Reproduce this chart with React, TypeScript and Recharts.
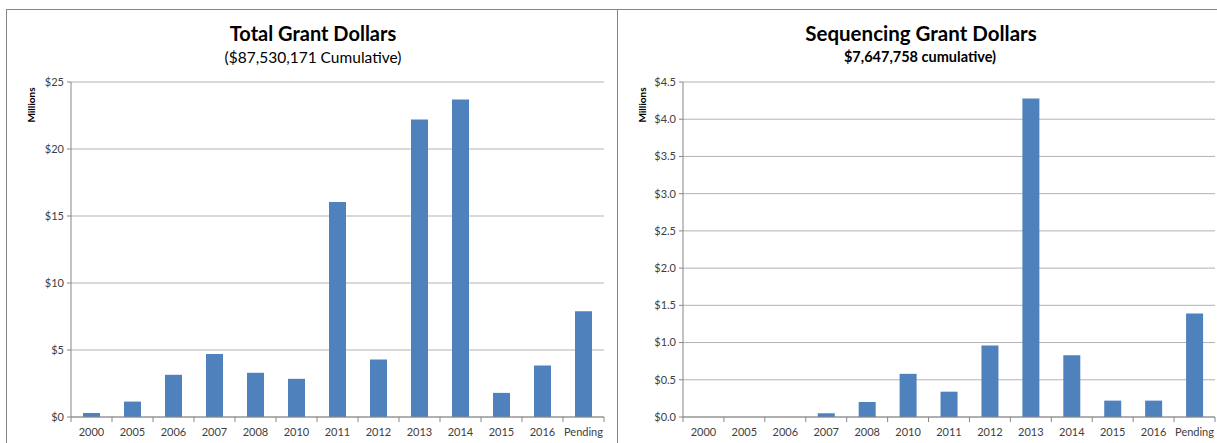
import { BarChart, Bar, XAxis, YAxis, CartesianGrid } from "recharts";

const categories = [
  "2000", "2005", "2006", "2007", "2008", "2010", "2011",
  "2012", "2013", "2014", "2015", "2016", "Pending",
];

// millions of dollars per year
const totalGrants = [0.3, 1.15, 3.15, 4.7, 3.3, 2.85, 16.05, 4.3, 22.2, 23.7, 1.8, 3.85, 7.9];
const sequencingGrants = [0, 0, 0, 0.05, 0.2, 0.58, 0.34, 0.96, 4.28, 0.83, 0.22, 0.22, 1.39];

const totalTicks = [0, 5, 10, 15, 20, 25];
const sequencingTicks = [0, 0.5, 1, 1.5, 2, 2.5, 3, 3.5, 4, 4.5];

const totalData = categories.map((year, i) => ({ year, value: totalGrants[i] }));
const sequencingData = categories.map((year, i) => ({ year, value: sequencingGrants[i] }));

const FONT = "Lato, 'Open Sans', sans-serif";
const BAR = "#4F81BD";
const AXIS = "#868686";
const GRID = "#B3B3B3";
const TEXT = "#404040";

const CategoryTick = (props: any) => {
  const { x, y, payload, index, band, count } = props;
  const axisY = y - 7;
  const left = x - band / 2;
  return (
    <g>
      <line x1={left} x2={left} y1={axisY} y2={axisY + 5} stroke={AXIS} />
      {index === count - 1 && (
        <line x1={left + band} x2={left + band} y1={axisY} y2={axisY + 5} stroke={AXIS} />
      )}
      <text x={x} y={y} dy={12} textAnchor="middle" fill={TEXT} fontSize={11} fontFamily={FONT}>
        {payload.value}
      </text>
    </g>
  );
};

const MillionsLabel = ({ x, y }: { x: number; y: number }) => (
  <text
    transform={`translate(${x},${y}) rotate(-90)`}
    textAnchor="middle"
    fontSize={10}
    fontWeight="bold"
    fill="#000"
    fontFamily={FONT}
  >
    Millions
  </text>
);

type PanelProps = {
  data: { year: string; value: number }[];
  ticks: number[];
  max: number;
  format: (v: number) => string;
  width: number;
  yAxisWidth: number;
  marginRight: number;
};

function GrantChart({ data, ticks, max, format, width, yAxisWidth, marginRight }: PanelProps) {
  const plotWidth = width - yAxisWidth - marginRight;
  const band = plotWidth / data.length;
  return (
    <BarChart
      width={width}
      height={433}
      data={data}
      margin={{ top: 72, right: marginRight, bottom: 0, left: 0 }}
      barSize={17}
    >
      <CartesianGrid vertical={false} stroke={GRID} />
      <XAxis
        dataKey="year"
        height={26}
        stroke={AXIS}
        tickLine={false}
        tickSize={5}
        tickMargin={2}
        interval={0}
        tick={<CategoryTick band={band} count={data.length} />}
      />
      <YAxis
        width={yAxisWidth}
        domain={[0, max]}
        ticks={ticks}
        interval={0}
        stroke={AXIS}
        tickSize={4}
        tickMargin={3}
        tickFormatter={format}
        tick={{ fill: TEXT, fontSize: 11, fontFamily: FONT }}
        label={{ content: () => <MillionsLabel x={28} y={95} /> }}
      />
      <Bar dataKey="value" fill={BAR} isAnimationActive={false} />
    </BarChart>
  );
}

const titleStyle: React.CSSProperties = {
  position: "absolute",
  top: 11,
  textAlign: "center",
  fontFamily: FONT,
  fontWeight: "bold",
  fontSize: 20.5,
  color: "#000",
  lineHeight: "24px",
};

const subStyle: React.CSSProperties = {
  position: "absolute",
  top: 37,
  textAlign: "center",
  fontFamily: FONT,
  fontSize: 15.5,
  color: "#000",
  lineHeight: "20px",
};

export default function App() {
  return (
    <div
      style={{
        position: "absolute",
        left: 0,
        top: 0,
        width: 1217,
        height: 443,
        background: "#fff",
        overflow: "hidden",
      }}
    >
      <div
        style={{
          position: "absolute",
          left: 6,
          top: 9,
          width: 1211,
          height: 434,
          borderTop: `1px solid ${AXIS}`,
          borderLeft: `1px solid ${AXIS}`,
        }}
      />
      <div
        style={{
          position: "absolute",
          left: 617,
          top: 9,
          width: 0,
          height: 434,
          borderLeft: `1px solid ${AXIS}`,
        }}
      />

      <div style={{ position: "absolute", left: 7, top: 10, width: 607, height: 433 }}>
        <div style={{ ...titleStyle, left: 0, width: 612, fontSize: 20 }}>Total Grant Dollars</div>
        <div style={{ ...subStyle, left: 0, width: 612 }}>($87,530,171 Cumulative)</div>
        <GrantChart
          data={totalData}
          ticks={totalTicks}
          max={25}
          format={(v) => `$${v}`}
          width={607}
          yAxisWidth={64}
          marginRight={10}
        />
      </div>

      <div style={{ position: "absolute", left: 618, top: 10, width: 599, height: 433 }}>
        <div style={{ ...titleStyle, left: 0, width: 606 }}>Sequencing Grant Dollars</div>
        <div style={{ ...subStyle, left: 0, width: 604, fontWeight: "bold", fontSize: 14.5 }}>
          $7,647,758 cumulative)
        </div>
        <GrantChart
          data={sequencingData}
          ticks={sequencingTicks}
          max={4.5}
          format={(v) => `$${v.toFixed(1)}`}
          width={599}
          yAxisWidth={65}
          marginRight={2}
        />
      </div>
    </div>
  );
}
